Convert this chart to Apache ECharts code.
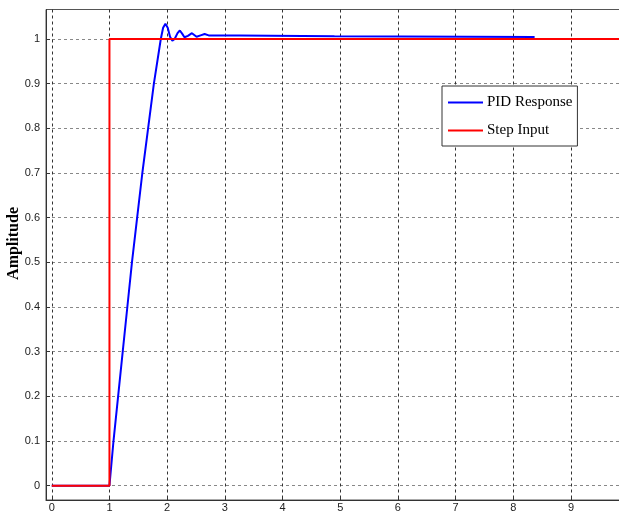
<!DOCTYPE html>
<html>
<head>
<meta charset="utf-8">
<script src="https://cdn.jsdelivr.net/npm/echarts@6/dist/echarts.min.js"></script>
<style>html,body{margin:0;padding:0;background:#fff;}#c{width:619px;height:513px;}</style>
</head>
<body>
<div id="c"></div>
<script>
// Data
const pidT = [0, 1, 1.07, 1.15, 1.23, 1.31, 1.39, 1.48, 1.57, 1.67, 1.77, 1.89, 1.93, 1.97, 2.01, 2.05, 2.09, 2.13, 2.18, 2.22, 2.26, 2.30, 2.36, 2.43, 2.47, 2.51, 2.58, 2.65, 2.72, 3.25, 3.25, 4.90, 4.90, 8.37];
const pidY = [0, 0, 0.1, 0.2, 0.3, 0.4, 0.5, 0.6, 0.7, 0.8, 0.9, 1.0, 1.025, 1.034, 1.025, 1.005, 0.996, 1.0, 1.013, 1.019, 1.012, 1.004, 1.007, 1.013, 1.009, 1.005, 1.008, 1.011, 1.008, 1.008, 1.006, 1.006, 1.0045, 1.0045];
const stepT = [0, 1, 1, 10];
const stepY = [0, 0, 1, 1];
const xTicks = [0, 1, 2, 3, 4, 5, 6, 7, 8, 9];
const yTicks = [0, 0.1, 0.2, 0.3, 0.4, 0.5, 0.6, 0.7, 0.8, 0.9, 1];
const seriesNames = ['PID Response', 'Step Input'];
const yTitle = 'Amplitude';

const chart = echarts.init(document.getElementById('c'));
const zip = (a, b) => a.map((v, i) => [v, b[i]]);
chart.setOption({
  animation: false,
  backgroundColor: '#fff',
  grid: { left: 46, top: 9.5, right: -1, bottom: 13, containLabel: false, outerBoundsMode: 'none', show: true, borderColor: '#555', borderWidth: 1, backgroundColor: 'transparent' },
  graphic: [{
    type: 'text', left: 6, top: 207, rotation: Math.PI / 2,
    style: { text: yTitle, fontFamily: 'Liberation Serif', fontWeight: 'bold', fontSize: 16, fill: '#000' }
  }],
  legend: {
    orient: 'vertical', left: 442, top: 86,
    backgroundColor: '#fff', borderColor: '#333', borderWidth: 1, borderRadius: 0,
    padding: [9, 5, 8, 6], itemGap: 13, itemWidth: 35, itemHeight: 2,
    icon: 'rect',
    textStyle: { fontFamily: 'Liberation Serif', fontSize: 15, color: '#000', padding: [0, 0, 0, -1] },
    data: seriesNames
  },
  xAxis: {
    type: 'value', min: -0.1, max: 9.85,
    axisLine: { onZero: false, lineStyle: { color: '#333' } },
    axisTick: { inside: true, length: 4, lineStyle: { color: '#333' }, customValues: xTicks },
    axisLabel: { customValues: xTicks, fontFamily: 'Liberation Sans', fontSize: 11, color: '#222', margin: 2 },
    splitLine: { show: true, lineStyle: { color: '#333', type: [3, 3], width: 1 } }
  },
  yAxis: {
    type: 'value', min: -0.032, max: 1.066,
    axisLine: { onZero: false, lineStyle: { color: '#333' } },
    axisTick: { inside: true, length: 4, lineStyle: { color: '#333' }, customValues: yTicks },
    axisLabel: { customValues: yTicks, fontFamily: 'Liberation Sans', fontSize: 11, color: '#222', margin: 6 },
    splitLine: { show: true, lineStyle: { color: '#888', type: [3, 3], width: 1 } }
  },
  series: [
    { name: seriesNames[0], type: 'line', data: zip(pidT, pidY), showSymbol: false, symbol: 'none', color: '#0000ff', lineStyle: { width: 2, color: '#0000ff' }, z: 2, clip: true },
    { name: seriesNames[1], type: 'line', data: zip(stepT, stepY), showSymbol: false, symbol: 'none', color: '#ff0000', lineStyle: { width: 2, color: '#ff0000' }, z: 3, clip: true }
  ]
});
</script>
</body>
</html>
